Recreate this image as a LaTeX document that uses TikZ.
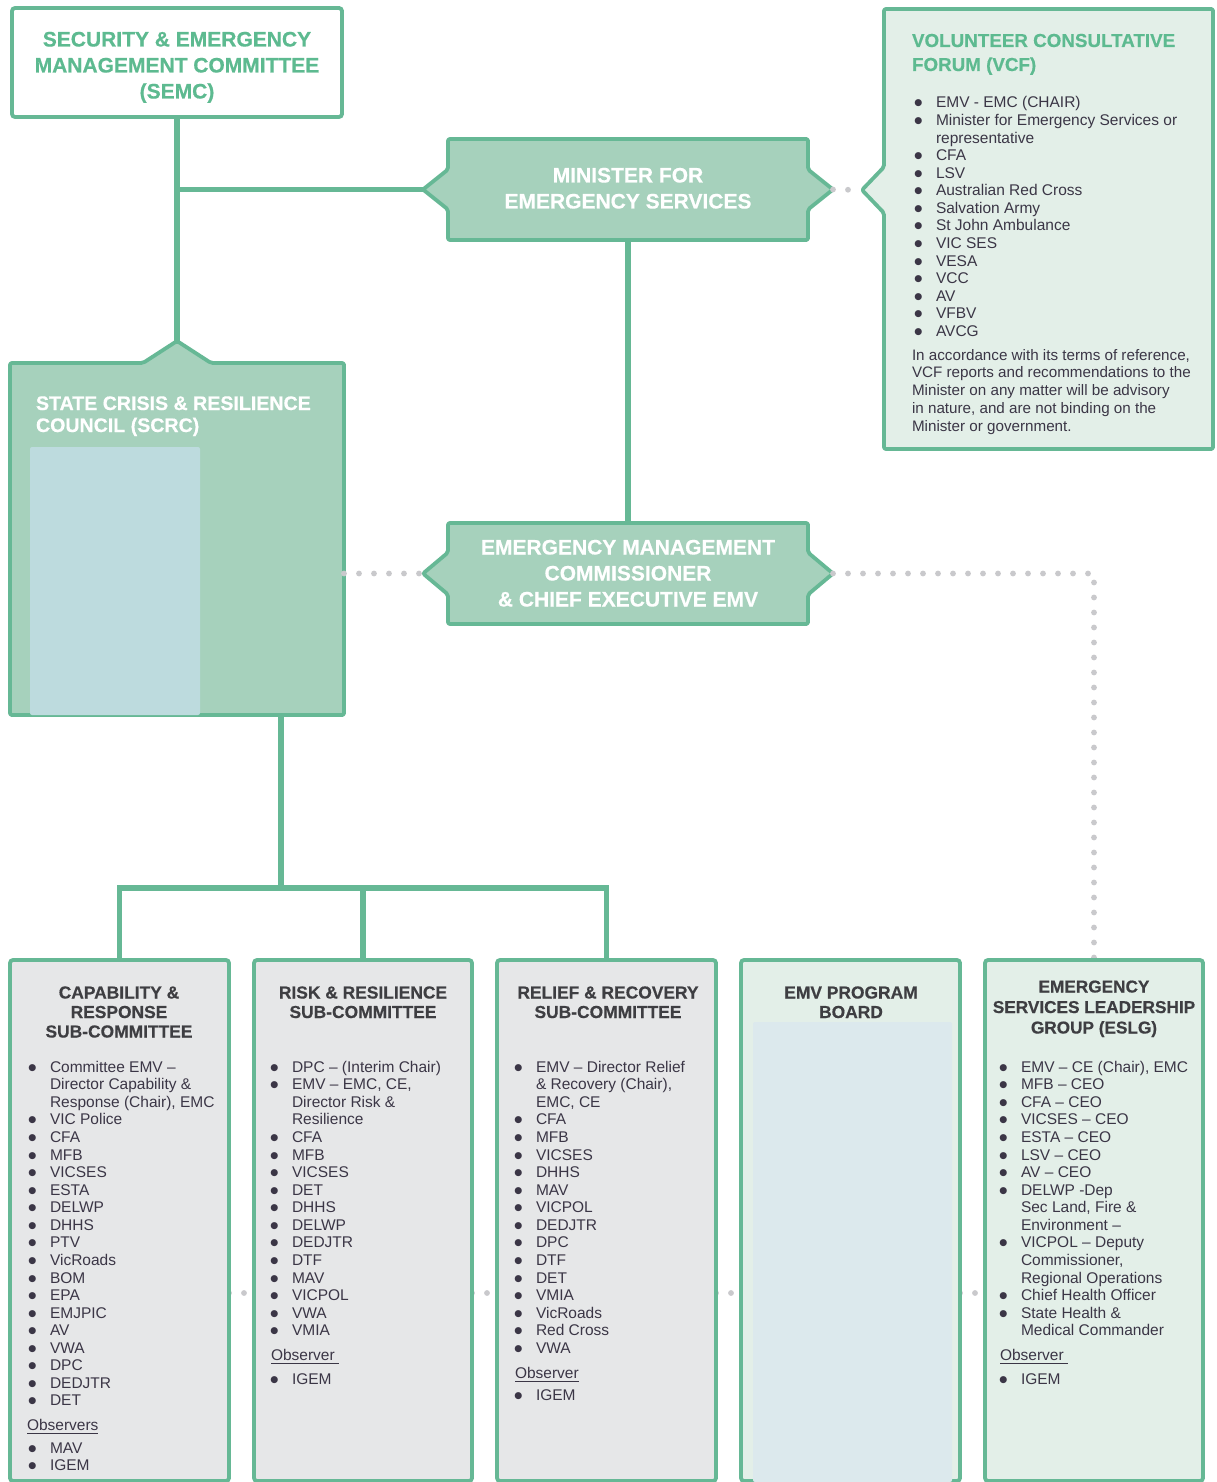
\documentclass[tikz,border=0pt]{standalone}
\usepackage{fontspec}
\setmainfont{Liberation Sans}
\newfontfamily\hfont{Liberation Sans}[BoldFeatures={FakeBold=0.5}]
\newfontfamily\symf{DejaVu Sans}
\usetikzlibrary{calc,backgrounds}
\definecolor{cgreen}{HTML}{66B895}
\definecolor{chtext}{HTML}{5DBA90}
\definecolor{cdark}{HTML}{A6D1BC}
\definecolor{clight}{HTML}{E3EFE8}
\definecolor{cgrey}{HTML}{E6E7E8}
\definecolor{cblueA}{HTML}{BDDBDE}
\definecolor{cblueB}{HTML}{DCE9ED}
\definecolor{cdots}{HTML}{C9C9CC}
\definecolor{ctext}{HTML}{3B3646}
\definecolor{chead}{HTML}{3E3E42}
\newcommand{\hdA}{\hfont\bfseries\fontsize{10.5}{13}\selectfont}
\newcommand{\hdS}{\hfont\bfseries\fontsize{9.8}{11}\selectfont}
\newcommand{\hdV}{\hfont\bfseries\fontsize{9.4}{12}\selectfont}
\newcommand{\hdC}{\hfont\bfseries\fontsize{8.7}{9.75}\selectfont}
\newcommand{\hdE}{\hfont\bfseries\fontsize{8.6}{10.25}\selectfont}
\newcommand{\bodyf}{\fontsize{7.75}{8.78}\selectfont}
\newcommand{\parf}{\fontsize{7.6}{8.9}\selectfont}
\newcommand{\bu}{\leavevmode\llap{\raisebox{1pt}{\symf\fontsize{4.6}{4.6}\selectfont ●}\hspace{6.8pt}}}
\newcommand{\ctr}[2]{\parbox[t]{#1}{\centering #2}}
\newcommand{\lft}[1]{\parbox[t]{200pt}{#1}}
\begin{document}
\begin{tikzpicture}[x=0.5pt,y=-0.5pt,
  plainbox/.style={draw=cgreen, line width=1.9pt, rounded corners=1.5pt, inner sep=0pt, outer sep=0pt},
  shapenode/.style={draw=none, fill=none, inner sep=0pt, outer sep=0pt},
  outline/.style={draw=cgreen, line width=1.9pt, line join=round, rounded corners=1pt},
  panel/.style={draw=none, rounded corners=1pt, inner sep=0pt, outer sep=0pt},
  txt/.style={inner sep=0pt, outer sep=0pt},
  conn/.style={draw=cgreen, line width=2.7pt},
  dots/.style={draw=cdots, line width=2.9pt, dash pattern=on 0pt off 7.5pt, line cap=round}]
\useasboundingbox (0,0) rectangle (1216,1482);

% ---------- top level ----------
\node[plainbox, fill=white, minimum width=165pt, minimum height=54.5pt] (semc) at (177,62.5) {};
\node[txt, anchor=base, text=chtext] (semc-t) at (177,46.5)
  {\ctr{170pt}{\hdA SECURITY \& EMERGENCY\\ MANAGEMENT COMMITTEE\\ (SEMC)}};

\node[shapenode, minimum width=180pt, minimum height=50.5pt] (min) at (628,189.5) {};
\node[shapenode, minimum width=180pt, minimum height=50.5pt] (emc) at (628,573.5) {};
\node[shapenode, minimum width=167pt, minimum height=176pt] (scrc) at (177,539) {};
\node[shapenode, minimum width=164.5pt, minimum height=220pt] (vcf) at (1048.5,229) {};

\begin{scope}[on background layer]
  \fill[white] (0,0) rectangle (1216,1482);
  \path[outline, fill=cdark] (min.north west) -- ($(min.west)+(0,-20)$) -- ($(min.west)+(-25,0)$)
    -- ($(min.west)+(0,20)$) -- (min.south west) -- (min.south east) -- ($(min.east)+(0,20)$)
    -- ($(min.east)+(25,0)$) -- ($(min.east)+(0,-20)$) -- (min.north east) -- cycle;
  \path[outline, fill=cdark] (emc.north west) -- ($(emc.west)+(0,-21)$) -- ($(emc.west)+(-25,0)$)
    -- ($(emc.west)+(0,21)$) -- (emc.south west) -- (emc.south east) -- ($(emc.east)+(0,21)$)
    -- ($(emc.east)+(25,0)$) -- ($(emc.east)+(0,-21)$) -- (emc.north east) -- cycle;
  \path[outline, fill=cdark] (scrc.north west) -- ($(scrc.north)+(-34,0)$) -- ($(scrc.north)+(0,-22)$)
    -- ($(scrc.north)+(34,0)$) -- (scrc.north east) -- (scrc.south east) -- (scrc.south west) -- cycle;
  \path[outline, fill=clight] (vcf.north west) -- ($(vcf.north west)+(0,158)$) -- ($(vcf.north west)+(-22,181)$)
    -- ($(vcf.north west)+(0,204)$) -- (vcf.south west) -- (vcf.south east) -- (vcf.north east) -- cycle;
\end{scope}

\node[txt, anchor=base, text=white] (min-t) at (628,182.5)
  {\ctr{180pt}{\hdA MINISTER FOR\\ EMERGENCY SERVICES}};
\node[txt, anchor=base, text=white] (emc-t) at (628,554.5)
  {\ctr{180pt}{\hdA EMERGENCY MANAGEMENT\\ COMMISSIONER\\ \& CHIEF EXECUTIVE EMV}};

\node[panel, fill=cblueA, minimum width=85pt, minimum height=134pt] (scrc-p) at (115,581) {};
\node[txt, anchor=base west, text=white] (scrc-t) at (36,410)
  {\lft{\hdS STATE CRISIS \& RESILIENCE\\ COUNCIL (SCRC)}};

\node[txt, anchor=base west, text=chtext] (vcf-t) at (912,47)
  {\lft{\hdV VOLUNTEER CONSULTATIVE\\ FORUM (VCF)}};
\node[txt, anchor=base west, text=ctext] (vcf-l) at (936,108)
  {\lft{\bodyf \bu EMV - EMC (CHAIR)\\ \bu Minister for Emergency Services or\\ representative\\
   \bu CFA\\ \bu LSV\\ \bu Australian Red Cross\\ \bu Salvation Army\\ \bu St John Ambulance\\
   \bu VIC SES\\ \bu VESA\\ \bu VCC\\ \bu AV\\ \bu VFBV\\ \bu AVCG}};
\node[txt, anchor=base west, text=ctext] (vcf-p) at (912,360)
  {\lft{\parf In accordance with its terms of reference,\\ VCF reports and recommendations to the\\
   Minister on any matter will be advisory\\ in nature, and are not binding on the\\ Minister or government.}};

% ---------- bottom row ----------
\node[plainbox, fill=cgrey, minimum width=109.5pt, minimum height=260.5pt] (crs) at (119.5,1220.5) {};
\node[plainbox, fill=cgrey, minimum width=109pt, minimum height=260.5pt] (rsk) at (363,1220.5) {};
\node[plainbox, fill=cgrey, minimum width=109.5pt, minimum height=260.5pt] (rrc) at (606.5,1220.5) {};
\node[plainbox, fill=clight, minimum width=109.5pt, minimum height=260.5pt] (pbd) at (850.5,1220.5) {};
\node[plainbox, fill=clight, minimum width=109pt, minimum height=260.5pt] (eslg) at (1094,1220.5) {};
\node[panel, fill=cblueB, minimum width=99.5pt, minimum height=230pt] (pbd-p) at (852.5,1252) {};

% capability & response
\node[txt, anchor=base, text=chead] (crs-t) at (119,998.5)
  {\ctr{108pt}{\hdC CAPABILITY \&\\ RESPONSE\\ SUB-COMMITTEE}};
\node[txt, anchor=base west, text=ctext] (crs-l) at (50,1072.3)
  {\lft{\bodyf \bu Committee EMV --\\ Director Capability \&\\ Response (Chair), EMC\\
   \bu VIC Police\\ \bu CFA\\ \bu MFB\\ \bu VICSES\\ \bu ESTA\\ \bu DELWP\\ \bu DHHS\\ \bu PTV\\
   \bu VicRoads\\ \bu BOM\\ \bu EPA\\ \bu EMJPIC\\ \bu AV\\ \bu VWA\\ \bu DPC\\ \bu DEDJTR\\ \bu DET}};
\node[txt, anchor=base west, text=ctext] (crs-o) at (27,1430) {\bodyf\underline{Observers}};
\node[txt, anchor=base west, text=ctext] (crs-ol) at (50,1453) {\lft{\bodyf \bu MAV\\ \bu IGEM}};

% risk & resilience
\node[txt, anchor=base, text=chead] (rsk-t) at (363,998.5)
  {\ctr{108pt}{\hdC RISK \& RESILIENCE\\ SUB-COMMITTEE}};
\node[txt, anchor=base west, text=ctext] (rsk-l) at (292,1072.3)
  {\lft{\bodyf \bu DPC -- (Interim Chair)\\ \bu EMV -- EMC, CE,\\ Director Risk \&\\ Resilience\\
   \bu CFA\\ \bu MFB\\ \bu VICSES\\ \bu DET\\ \bu DHHS\\ \bu DELWP\\ \bu DEDJTR\\ \bu DTF\\ \bu MAV\\
   \bu VICPOL\\ \bu VWA\\ \bu VMIA}};
\node[txt, anchor=base west, text=ctext] (rsk-o) at (271,1360) {\bodyf\underline{Observer\ }};
\node[txt, anchor=base west, text=ctext] (rsk-ol) at (292,1384) {\lft{\bodyf \bu IGEM}};

% relief & recovery
\node[txt, anchor=base, text=chead] (rrc-t) at (608,998.5)
  {\ctr{108pt}{\hdC RELIEF \& RECOVERY\\ SUB-COMMITTEE}};
\node[txt, anchor=base west, text=ctext] (rrc-l) at (536,1072.3)
  {\lft{\bodyf \bu EMV -- Director Relief\\ \& Recovery (Chair),\\ EMC, CE\\
   \bu CFA\\ \bu MFB\\ \bu VICSES\\ \bu DHHS\\ \bu MAV\\ \bu VICPOL\\ \bu DEDJTR\\ \bu DPC\\ \bu DTF\\
   \bu DET\\ \bu VMIA\\ \bu VicRoads\\ \bu Red Cross\\ \bu VWA}};
\node[txt, anchor=base west, text=ctext] (rrc-o) at (515,1378) {\bodyf\underline{Observer}};
\node[txt, anchor=base west, text=ctext] (rrc-ol) at (536,1400) {\lft{\bodyf \bu IGEM}};

% program board
\node[txt, anchor=base, text=chead] (pbd-t) at (851,998.5)
  {\ctr{108pt}{\hdC EMV PROGRAM\\ BOARD}};

% ESLG
\node[txt, anchor=base, text=chead] (eslg-t) at (1094,992.5)
  {\ctr{108pt}{\hdE EMERGENCY\\ SERVICES LEADERSHIP\\ GROUP (ESLG)}};
\node[txt, anchor=base west, text=ctext] (eslg-l) at (1021,1072.3)
  {\lft{\bodyf \bu EMV -- CE (Chair), EMC\\ \bu MFB -- CEO\\ \bu CFA -- CEO\\ \bu VICSES -- CEO\\
   \bu ESTA -- CEO\\ \bu LSV -- CEO\\ \bu AV -- CEO\\ \bu DELWP -Dep\\ Sec Land, Fire \&\\ Environment --\\
   \bu VICPOL -- Deputy\\ Commissioner,\\ Regional Operations\\ \bu Chief Health Officer\\
   \bu State Health \&\\ Medical Commander}};
\node[txt, anchor=base west, text=ctext] (eslg-o) at (1000,1360) {\bodyf\underline{Observer\ }};
\node[txt, anchor=base west, text=ctext] (eslg-ol) at (1021,1384) {\lft{\bodyf \bu IGEM}};

% ---------- connectors ----------
\coordinate (scrctop) at ($(scrc.north)+(0,-22)$);
\coordinate (minL) at ($(min.west)+(-25,0)$);
\coordinate (minR) at ($(min.east)+(25,0)$);
\coordinate (emcL) at ($(emc.west)+(-25,0)$);
\coordinate (emcR) at ($(emc.east)+(25,0)$);
\coordinate (vcfL) at ($(vcf.north west)+(-22,181)$);
\coordinate (bus) at (281,888);
\coordinate (dl) at (0,1293);
\begin{scope}[on background layer]
  \draw[conn] (semc.south) -- (scrctop);
  \draw[conn] (semc.south |- minL) -- (minL);
  \draw[conn] (min.south) -- (emc.north);
  \draw[conn] (scrc.south -| bus) -- (bus);
  \draw[conn] (crs.north) |- (bus) -| (rrc.north);
  \draw[conn] (rsk.north) -- (rsk.north |- bus);
  \draw[dots] (minR) -- (vcfL);
  \draw[dots] (scrc.east |- emcL) -- (emcL);
  \draw[dots] (emcR) -| (eslg.north);
  \draw[dots] (crs.east |- dl) -- (rsk.west |- dl);
  \draw[dots] (rsk.east |- dl) -- (rrc.west |- dl);
  \draw[dots] (rrc.east |- dl) -- (pbd.west |- dl);
  \draw[dots] (pbd.east |- dl) -- (eslg.west |- dl);
\end{scope}
\end{tikzpicture}
\end{document}
